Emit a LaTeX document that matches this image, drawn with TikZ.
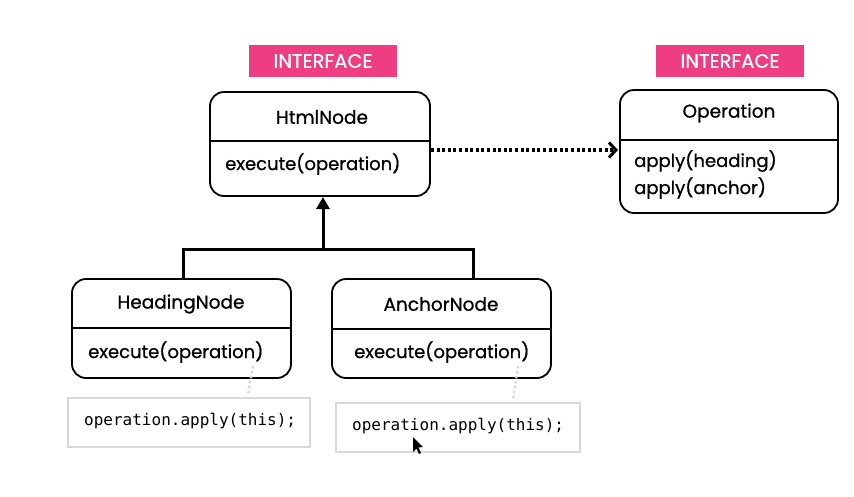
\documentclass[tikz,border=0pt]{standalone}
\usepackage{fontspec}
\setmainfont{Poppins}
\newfontfamily\medfont{Poppins}[UprightFeatures={FakeBold=0.8}]
\newfontfamily\codefont{DejaVu Sans Mono}
\usetikzlibrary{arrows.meta}
\definecolor{pinkc}{HTML}{EE3D80}
\definecolor{notegray}{HTML}{D9D9D9}
\tikzset{
  umlbox/.style={draw=black, line width=1.8pt, rounded corners=14pt},
  divider/.style={draw=black, line width=1.8pt},
  tag/.style={fill=pinkc, text=white, minimum width=148pt, minimum height=32pt, inner sep=0pt, font=\medfont\fontsize{19.5}{21}\selectfont},
  title/.style={font=\medfont\fontsize{18.5}{20}\selectfont, inner sep=0pt},
  member/.style={font=\medfont\fontsize{18}{20}\selectfont, inner sep=0pt, anchor=west},
  notebox/.style={draw=notegray, line width=1.2pt, fill=white},
  code/.style={font=\codefont\fontsize{16}{18}\selectfont, inner sep=0pt, anchor=west},
  conn/.style={line width=3pt, draw=black},
  notelink/.style={draw=notegray, line width=2.5pt, dash pattern=on 2.5pt off 2.5pt},
}
\begin{document}
\begin{tikzpicture}[x=1pt,y=-1pt]
\useasboundingbox (0,0) rectangle (854,496);
\fill[white] (0,0) rectangle (854,496);

% Tags
\node[tag] (tag1) at (323,61) {INTERFACE};
\node[tag] (tag2) at (730,61) {INTERFACE};

% HtmlNode
\draw[umlbox] (210,92) rectangle (430,196);
\draw[divider] (210,141) -- (430,141);
\node[title] (html) at (322,117) {HtmlNode};
\node[member] (htmlm) at (225,164) {execute(operation)};
\coordinate (htmlR) at (431,150);
\coordinate (htmlB) at (323,197);

% Operation
\draw[umlbox] (620,90) rectangle (838,213);
\draw[divider] (620,140) -- (838,140);
\node[title] (op) at (729,113) {Operation};
\node[member] (opm1) at (634,161) {apply(heading)};
\node[member] (opm2) at (634,188) {apply(anchor)};
\coordinate (opL) at (618,150);

% HeadingNode
\draw[umlbox] (72,279) rectangle (291,378);
\draw[divider] (72,328) -- (291,328);
\node[title] (head) at (181,304) {HeadingNode};
\node[member] (headm) at (88,352) {execute(operation)};
\coordinate (headT) at (183,279);

% AnchorNode
\draw[umlbox] (332,279) rectangle (551,378);
\draw[divider] (332,329) -- (551,329);
\node[title] (anch) at (441,304) {AnchorNode};
\node[member] (anchm) at (354,352) {execute(operation)};
\coordinate (anchT) at (473,279);

% Connectors
\coordinate (junc) at (323,249);
\draw[conn, line cap=butt] (headT) -- (183,249) -- (473,249) -- (anchT);
\draw[conn, -{Triangle[length=12pt,width=13pt]}] (junc) -- (htmlB);
\draw[line width=3.3pt, dash pattern=on 3pt off 2.6pt, -{Straight Barb[length=7pt,width=15pt,line width=3pt]}] (htmlR) -- (opL);

% Notes
\draw[notebox] (68,398) rectangle (310,447);
\node[code] (code1) at (84,421) {operation.apply(this);};
\draw[notebox] (336,403) rectangle (580,452);
\node[code] (code2) at (352,426) {operation.apply(this);};

\coordinate (n1a) at (253,366);
\coordinate (n1b) at (248,395);
\coordinate (n2a) at (518,366);
\coordinate (n2b) at (513,400);
\draw[notelink] (n1a) -- (n1b);
\draw[notelink] (n2a) -- (n2b);

% mouse cursor
\fill[black] (413,437) -- (413,452) -- (416.5,448.5) -- (419,454) -- (421,453) -- (418.5,447.5) -- (423,447) -- cycle;
\end{tikzpicture}
\end{document}
